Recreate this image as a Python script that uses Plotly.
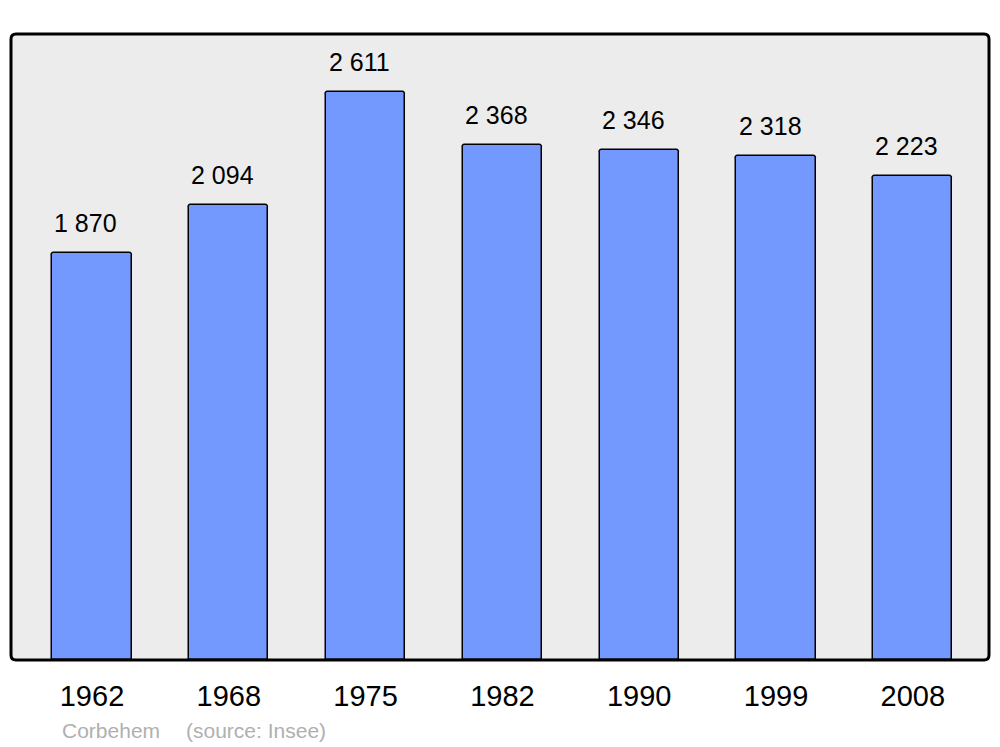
import plotly.graph_objects as go

years = ["1962", "1968", "1975", "1982", "1990", "1999", "2008"]
population = [1870, 2094, 2611, 2368, 2346, 2318, 2223]
value_labels = ["1 870", "2 094", "2 611", "2 368", "2 346", "2 318", "2 223"]
commune = "Corbehem"
source = "(source: Insee)"

xpos = list(range(len(years)))

fig = go.Figure()
fig.add_trace(go.Bar(
    x=xpos, y=population, width=0.578,
    marker=dict(color="#7399ff", line=dict(color="#000000", width=1.5), cornerradius=3),
    hoverinfo="skip",
))

for i, (v, t) in enumerate(zip(population, value_labels)):
    fig.add_annotation(x=i, y=v, text=t, showarrow=False, xanchor="center", yanchor="bottom",
                       xshift=-6, yshift=14, font=dict(size=25, color="#000000", family="Liberation Sans"))

W, H = 978, 626
r = 5
rx, ry = r / W, r / H
path = (f"M {rx},0 L {1-rx},0 Q 1,0 1,{ry} L 1,{1-ry} Q 1,1 {1-rx},1 L {rx},1 Q 0,1 0,{1-ry} "
        f"L 0,{ry} Q 0,0 {rx},0 Z")
fig.add_shape(type="path", xref="paper", yref="paper", path=path,
              line=dict(color="#000000", width=3), layer="above")

fig.add_annotation(xref="paper", yref="paper", x=(60-11)/W, y=-(730-660)/H, text=commune,
                   showarrow=False, xanchor="left", yanchor="middle",
                   font=dict(size=21, color="#b0b0b0", family="Liberation Sans"))
fig.add_annotation(xref="paper", yref="paper", x=(184-11)/W, y=-(730-660)/H, text=source,
                   showarrow=False, xanchor="left", yanchor="middle",
                   font=dict(size=21, color="#b0b0b0", family="Liberation Sans"))

fig.update_layout(
    width=1000, height=747,
    margin=dict(l=3, r=19, t=26, b=95),
    paper_bgcolor="#ffffff", plot_bgcolor="#ececec",
    showlegend=False,
    bargap=0,
    xaxis=dict(range=[-0.592, 6.557], tickvals=xpos, ticktext=years, showgrid=False, zeroline=False,
               showline=False, ticks="", tickfont=dict(size=29, color="#000000", family="Liberation Sans"),
               ticklabelstandoff=16, fixedrange=True),
    yaxis=dict(range=[0, 2878], showgrid=False, zeroline=False, showticklabels=False, showline=False,
               ticks="", fixedrange=True),
)

fig.write_html("out.html")
